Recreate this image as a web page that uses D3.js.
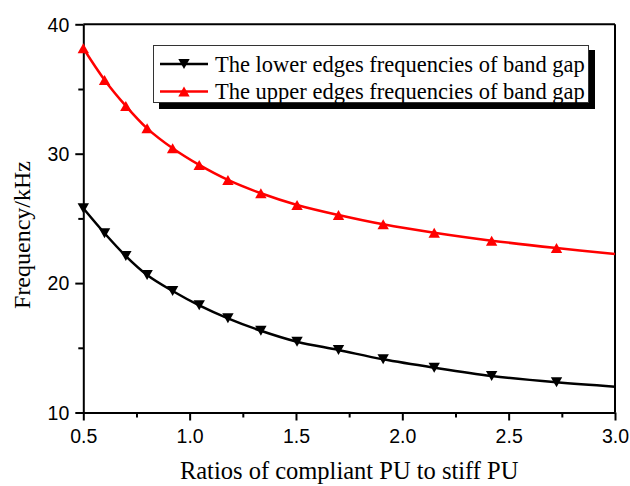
<!DOCTYPE html>
<html>
<head>
<meta charset="utf-8">
<script src="https://cdn.jsdelivr.net/npm/d3@7"></script>
<style>
  body { margin: 0; background: #fff; }
  svg { display: block; }
</style>
</head>
<body>
<script>
// data
var ratios = [0.5, 0.6, 0.7, 0.8, 0.92, 1.045, 1.18, 1.335, 1.505, 1.7, 1.91, 2.15, 2.42, 2.725, 3.0];
var lowerEdge = [25.78, 23.85, 22.09, 20.63, 19.39, 18.28, 17.28, 16.32, 15.47, 14.83, 14.11, 13.46, 12.82, 12.33, 11.99];
var upperEdge = [38.15, 35.70, 33.69, 31.96, 30.42, 29.13, 27.97, 26.94, 26.04, 25.26, 24.54, 23.89, 23.28, 22.71, 22.25];
var seriesNames = ["The lower edges frequencies of band gap", "The upper edges frequencies of band gap"];
var xTicks = [0.5, 1.0, 1.5, 2.0, 2.5, 3.0];
var yTicks = [10, 20, 30, 40];

var W = 630, H = 486;
var margin = {top: 24.3, right: 15, bottom: 73.5, left: 83.3},
    width = W - margin.left - margin.right,
    height = H - margin.top - margin.bottom;

var x = d3.scaleLinear().domain([0.5, 3.0]).range([0, width]);
var y = d3.scaleLinear().domain([10, 40]).range([height, 0]);

var svg = d3.select("body").append("svg")
    .attr("width", W)
    .attr("height", H);

var g = svg.append("g")
    .attr("transform", "translate(" + margin.left + "," + margin.top + ")");

// frame lines (top and right)
g.append("line").attr("x1", 0).attr("x2", width).attr("y1", 0).attr("y2", 0)
    .attr("stroke", "#000").attr("stroke-width", 2);
g.append("line").attr("x1", width).attr("x2", width).attr("y1", 0).attr("y2", height)
    .attr("stroke", "#000").attr("stroke-width", 2);

// minor ticks
var xMinor = d3.range(0.75, 3.0, 0.5);
var yMinor = [15, 25, 35];

var xAxis = g.append("g")
    .attr("transform", "translate(0," + height + ")")
    .call(d3.axisBottom(x).tickValues(xTicks).tickFormat(d3.format(".1f")).tickSize(8).tickSizeOuter(0));
g.append("g")
    .attr("transform", "translate(0," + height + ")")
    .call(d3.axisBottom(x).tickValues(xMinor).tickFormat("").tickSize(5).tickSizeOuter(0))
    .select(".domain").remove();

var yAxis = g.append("g")
    .call(d3.axisLeft(y).tickValues(yTicks).tickFormat(d3.format("d")).tickSize(8).tickSizeOuter(0));
g.append("g")
    .call(d3.axisLeft(y).tickValues(yMinor).tickFormat("").tickSize(5).tickSizeOuter(0))
    .select(".domain").remove();

g.selectAll(".domain").attr("stroke-width", 2);
g.selectAll(".tick line").attr("stroke-width", 2);
g.selectAll(".tick text")
    .attr("font-family", "Liberation Sans, Arial, sans-serif")
    .attr("font-size", 19.5)
    .attr("fill", "#000");
xAxis.selectAll(".tick text").attr("y", 12).attr("dy", "0.95em");
yAxis.selectAll(".tick text").attr("x", -14).attr("dy", "0.35em");

// axis titles
svg.append("text")
    .attr("x", margin.left + width / 2)
    .attr("y", 479)
    .attr("text-anchor", "middle")
    .attr("font-family", "Liberation Serif, Times New Roman, serif")
    .attr("font-size", 24.5)
    .text("Ratios of compliant PU to stiff PU");

svg.append("text")
    .attr("transform", "translate(30,235) rotate(-90)")
    .attr("text-anchor", "middle")
    .attr("font-family", "Liberation Serif, Times New Roman, serif")
    .attr("font-size", 24)
    .text("Frequency/kHz");

// lines
var line = d3.line()
    .x(function(d) { return x(d[0]); })
    .y(function(d) { return y(d[1]); })
    .curve(d3.curveCatmullRom);

var series = [
  {name: seriesNames[0], values: lowerEdge, color: "#000", down: true},
  {name: seriesNames[1], values: upperEdge, color: "#ff0000", down: false}
];

function triPath(down) {
  var s = 5.7, h = 5;
  if (down) return "M" + (-s) + "," + (-h) + "L" + s + "," + (-h) + "L0," + h + "Z";
  return "M" + (-s) + "," + h + "L" + s + "," + h + "L0," + (-h) + "Z";
}

series.forEach(function(s) {
  var pts = ratios.map(function(r, i) { return [r, s.values[i]]; });
  g.append("path")
      .datum(pts)
      .attr("fill", "none")
      .attr("stroke", s.color)
      .attr("stroke-width", 2.5)
      .attr("d", line);
  // markers on every point except the curve end
  g.selectAll(null)
      .data(pts.slice(0, pts.length - 1))
      .enter().append("path")
      .attr("transform", function(d) { return "translate(" + x(d[0]) + "," + y(d[1]) + ")"; })
      .attr("d", triPath(s.down))
      .attr("fill", s.color);
});

// legend
var lg = svg.append("g");
lg.append("rect").attr("x", 159).attr("y", 50).attr("width", 436).attr("height", 59).attr("fill", "#000");
lg.append("rect").attr("x", 153.5).attr("y", 45.5).attr("width", 435).attr("height", 57)
    .attr("fill", "#fff").attr("stroke", "#333").attr("stroke-width", 1);

series.forEach(function(s, i) {
  var cy = 64 + i * 27.5;
  lg.append("line").attr("x1", 160).attr("x2", 208).attr("y1", cy).attr("y2", cy)
      .attr("stroke", s.color).attr("stroke-width", 2.5);
  lg.append("path").attr("transform", "translate(184," + cy + ")")
      .attr("d", triPath(s.down)).attr("fill", s.color);
  lg.append("text")
      .attr("x", 215)
      .attr("y", cy + 7.5)
      .attr("font-family", "Liberation Serif, Times New Roman, serif")
      .attr("font-size", 22.5)
      .text(s.name);
});
</script>
</body>
</html>
